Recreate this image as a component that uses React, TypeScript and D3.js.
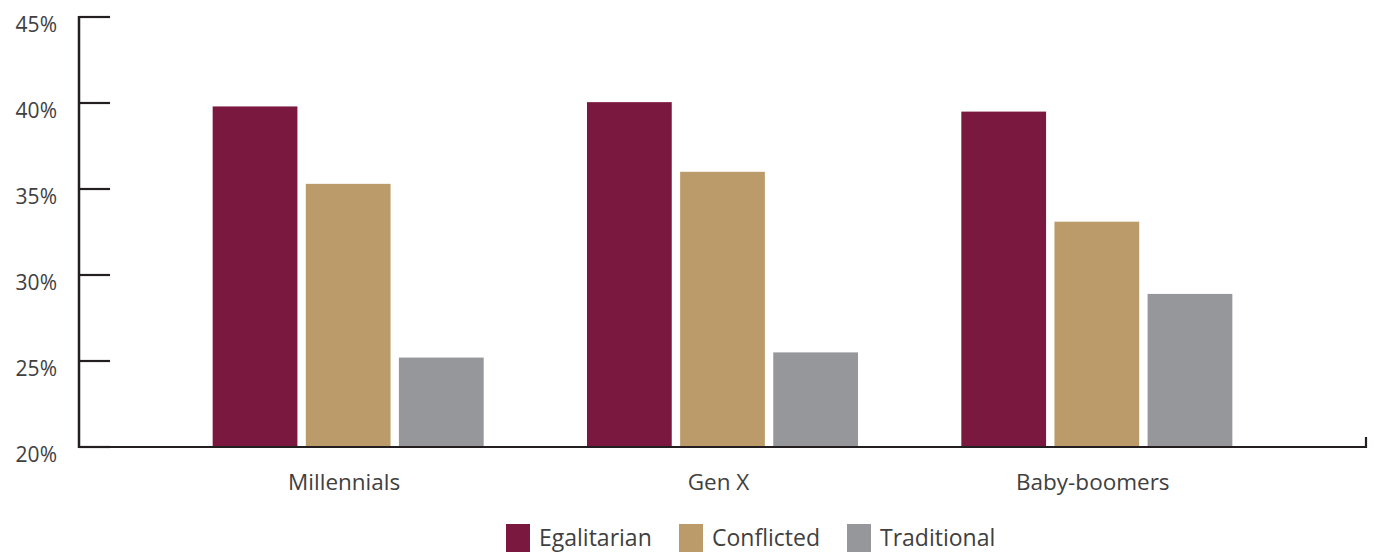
import React from "react";
import * as d3 from "d3";

const categories = ["Millennials", "Gen X", "Baby-boomers"];
const seriesNames = ["Egalitarian", "Conflicted", "Traditional"];
const egalitarian = [39.8, 40.05, 39.5];
const conflicted = [35.3, 36.0, 33.1];
const traditional = [25.2, 25.5, 28.9];
const yTicks = [20, 25, 30, 35, 40, 45];
const colors = ["#7b183f", "#bc9b6a", "#96979b"];

const W = 1374;
const H = 552;
const axisX = 79;
const axisRight = 1366;
const font = "'Open Sans', 'DejaVu Sans', sans-serif";
const textColor = "#404040";
const axisColor = "#231f20";

export default function App() {
  const values = [egalitarian, conflicted, traditional];
  const y = d3.scaleLinear().domain([20, 45]).range([447, 17]);
  const x0 = d3
    .scaleBand<string>()
    .domain(categories)
    .range([161, 1284])
    .paddingInner(0.276)
    .paddingOuter(0.138);
  const x1 = d3
    .scaleBand<string>()
    .domain(seriesNames)
    .range([0, x0.bandwidth()])
    .paddingInner(0.09)
    .paddingOuter(0);

  const legendX = [506, 679, 847];

  return (
    <svg
      width={W}
      height={H}
      style={{ position: "absolute", left: 0, top: 0, display: "block", background: "#fff" }}
    >
      {/* bars */}
      {categories.map((c, ci) => (
        <g key={c} transform={`translate(${x0(c)},0)`}>
          {seriesNames.map((s, si) => (
            <rect
              key={s}
              x={x1(s)}
              y={y(values[si][ci])}
              width={x1.bandwidth()}
              height={y(20) - y(values[si][ci]) + 1}
              fill={colors[si]}
            />
          ))}
        </g>
      ))}
      {/* y axis */}
      <line x1={axisX} x2={axisX} y1={y(45) - 1} y2={y(20) + 1} stroke={axisColor} strokeWidth={2.5} />
      {yTicks.map((t) => (
        <g key={t}>
          <line x1={axisX} x2={110} y1={y(t)} y2={y(t)} stroke={axisColor} strokeWidth={2.2} />
          <text
            x={57}
            y={y(t) + 8}
            dy="0.35em"
            textAnchor="end"
            fontFamily={font}
            fontSize={21}
            fill={textColor}
          >
            {t}%
          </text>
        </g>
      ))}
      {/* x axis */}
      <line x1={axisX} x2={axisRight} y1={y(20)} y2={y(20)} stroke={axisColor} strokeWidth={2.2} />
      <line x1={axisRight} x2={axisRight} y1={y(20) + 1} y2={y(20) - 10} stroke={axisColor} strokeWidth={2.2} />
      {categories.map((c) => (
        <text
          key={c}
          x={(x0(c) as number) + x0.bandwidth() / 2 - 4}
          y={490}
          textAnchor="middle"
          fontFamily={font}
          fontSize={22.5}
          fill={textColor}
        >
          {c}
        </text>
      ))}
      {/* legend */}
      {seriesNames.map((s, i) => (
        <g key={s} transform={`translate(${legendX[i]},524)`}>
          <rect x={0} y={0} width={24} height={28} fill={colors[i]} />
          <text x={33} y={22} fontFamily={font} fontSize={23} fill={textColor}>
            {s}
          </text>
        </g>
      ))}
    </svg>
  );
}
